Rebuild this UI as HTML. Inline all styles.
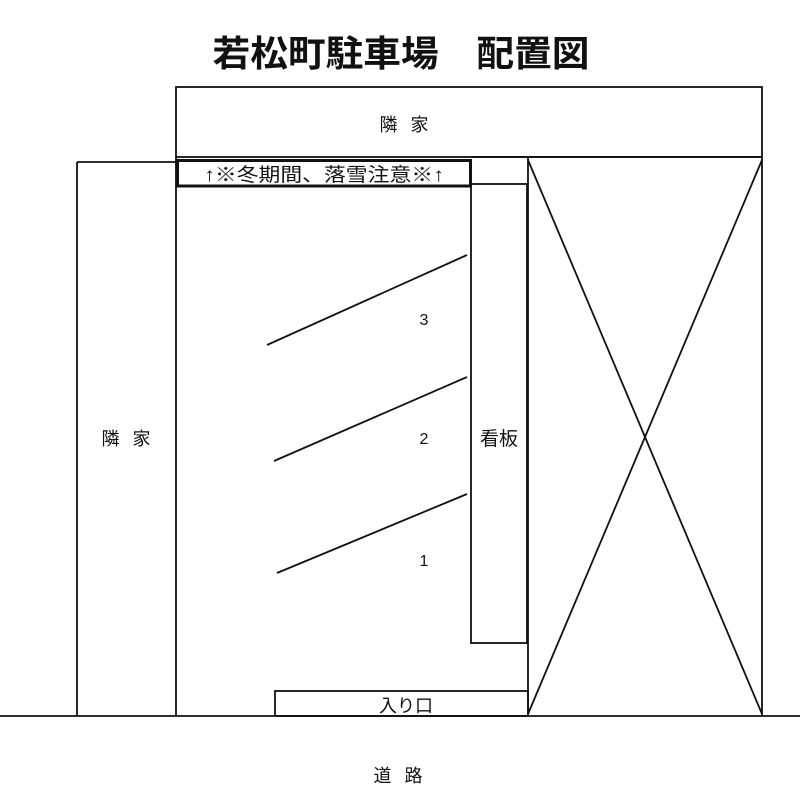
<!DOCTYPE html>
<html><head><meta charset="utf-8"><style>
html,body{margin:0;padding:0;background:#fff}
svg{display:block}
text{font-family:"Liberation Sans","Noto Sans CJK JP",sans-serif;fill:#111}
</style></head><body>
<svg width="800" height="800" viewBox="0 0 800 800" xmlns="http://www.w3.org/2000/svg">
<g stroke="#111" stroke-width="1.8" fill="none">
<rect x="176" y="87" width="586" height="70"/>
<line x1="77" y1="162" x2="176" y2="162"/>
<line x1="77" y1="162" x2="77" y2="716"/>
<line x1="176" y1="157" x2="176" y2="716"/>
<line x1="471" y1="157" x2="762" y2="157"/>
<line x1="528" y1="157" x2="528" y2="716"/>
<line x1="762" y1="157" x2="762" y2="716"/>
<line x1="528" y1="160" x2="762" y2="714"/>
<line x1="762" y1="160" x2="528" y2="714"/>
<rect x="471" y="184" width="56" height="459"/>
<rect x="275" y="691" width="253" height="25"/>
<line x1="0" y1="716" x2="800" y2="716"/>
<line x1="267" y1="345" x2="467" y2="255"/>
<line x1="274" y1="461" x2="467" y2="377"/>
<line x1="277" y1="573" x2="467" y2="494"/>
</g>
<rect x="177.5" y="160.5" width="293" height="25.5" stroke="#111" stroke-width="3" fill="#fff"/>
<text x="401" y="66" font-size="36" font-weight="bold" text-anchor="middle" textLength="377" lengthAdjust="spacingAndGlyphs">若松町駐車場　配置図</text>
<text x="406" y="131" font-size="18" text-anchor="middle" letter-spacing="4">隣 家</text>
<text x="128" y="445" font-size="18" text-anchor="middle" letter-spacing="4">隣 家</text>
<text x="324" y="181" font-size="19" text-anchor="middle" textLength="240" lengthAdjust="spacingAndGlyphs">↑※冬期間、落雪注意※↑</text>
<text x="499" y="445" font-size="19" text-anchor="middle">看板</text>
<text x="406" y="712" font-size="18" text-anchor="middle">入り口</text>
<text x="400" y="782" font-size="18" text-anchor="middle" letter-spacing="4">道 路</text>
<text x="424" y="325" font-size="16" text-anchor="middle">3</text>
<text x="424" y="444" font-size="16" text-anchor="middle">2</text>
<text x="424" y="566" font-size="16" text-anchor="middle">1</text>
</svg>
</body></html>
